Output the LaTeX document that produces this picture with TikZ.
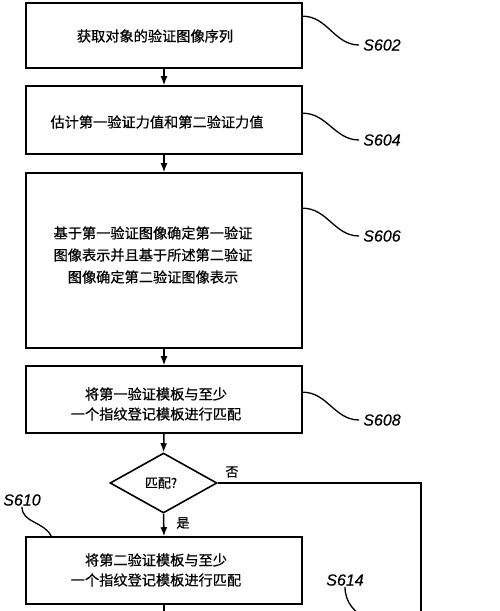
\documentclass[tikz,border=0pt]{standalone}
\usepackage{fontspec}
\newfontfamily\cjk[FakeBold=0.6]{Noto Sans CJK SC}
\newfontfamily\labfont[FakeBold=0.4]{Liberation Sans}
\usetikzlibrary{shapes.geometric,arrows.meta}
\begin{document}
\begin{tikzpicture}[x=1pt,y=-1pt,
  stepbox/.style={draw=black,line width=1.6pt,minimum width=276pt,inner sep=0pt},
  txt/.style={font=\cjk\fontsize{14.2}{21}\selectfont,align=center,inner sep=0pt},
  small/.style={font=\cjk\fontsize{13}{15}\selectfont,inner sep=0pt},
  slab/.style={font=\labfont\itshape\fontsize{16}{18}\selectfont,inner sep=4pt},
  arr/.style={line width=1.5pt,-{Latex[length=9pt,width=7pt]}},
  wave/.style={line width=1.3pt},
  decision/.style={draw=black,line width=1.6pt,diamond,minimum width=107pt,minimum height=60pt,inner sep=0pt}]
\useasboundingbox (0,0) rectangle (500,611);
\clip (0,0) rectangle (500,611);
% boxes
\node[stepbox,minimum height=65pt] (b1) at (164,35.5) {};
\node[stepbox,minimum height=68pt] (b2) at (164,120) {};
\node[stepbox,minimum height=175pt] (b3) at (164,260.5) {};
\node[stepbox,minimum height=67pt] (b4) at (164,399.5) {};
\node[decision] (d1) at (163.5,483) {};
\node[stepbox,minimum height=67pt] (b5) at (164,570.5) {};
% texts
\node[txt] (t1) at (155,36) {获取对象的验证图像序列};
\node[txt] (t2) at (157,122) {估计第一验证力值和第二验证力值};
\node[txt,font=\cjk\fontsize{14.2}{22}\selectfont] (t3) at (153,255) {基于第一验证图像确定第一验证\\图像表示并且基于所述第二验证\\图像确定第二验证图像表示};
\node[txt,font=\cjk\fontsize{14.2}{20}\selectfont] (t4) at (156,404) {将第一验证模板与至少\\一个指纹登记模板进行匹配};
\node[txt,font=\cjk\fontsize{14.2}{20}\selectfont] (t5) at (156,570) {将第二验证模板与至少\\一个指纹登记模板进行匹配};
\node[small] (td) at (161,483) {匹配?};
\node[small] (tno) at (232,472) {否};
\node[small] (tyes) at (183,523) {是};
% labels
\node[slab] (l602) at (382,45) {S602};
\node[slab] (l604) at (382,140) {S604};
\node[slab] (l606) at (382,236) {S606};
\node[slab] (l608) at (382,420) {S608};
\node[slab,inner sep=1pt] (l610) at (22,500) {S610};
\node[slab,inner sep=1pt] (l614) at (345,580) {S614};
% free ends
\coordinate (e1) at (164,620);
\coordinate (c1) at (421,483);
\coordinate (c2) at (421,620);
\coordinate (c3) at (368,620);
% flow arrows
\draw[arr] (b1.south) -- (b2.north);
\draw[arr] (b2.south) -- (b3.north);
\draw[arr] (b3.south) -- (b4.north);
\draw[arr] (b4.south) -- (d1.north);
\draw[arr] (d1.south) -- (b5.north);
\draw[arr] (b5.south) -- (e1);
\draw[line width=1.6pt] (d1.east) -- (c1) -- (c2);
% label connectors
\draw[wave] ([yshift=-14pt]b1.north east) to[out=0,in=180] (l602.west);
\draw[wave] ([yshift=-28pt]b2.north east) to[out=0,in=180] (l604.west);
\draw[wave] ([yshift=-36pt]b3.north east) to[out=0,in=180] (l606.west);
\draw[wave] ([yshift=-27pt]b4.north east) to[out=0,in=180] (l608.west);
\draw[wave] (l610.south) to[out=-90,in=115] ([xshift=26pt]b5.north west);
\draw[wave] (l614.south) to[out=-90,in=150] (c3);
\end{tikzpicture}
\end{document}
